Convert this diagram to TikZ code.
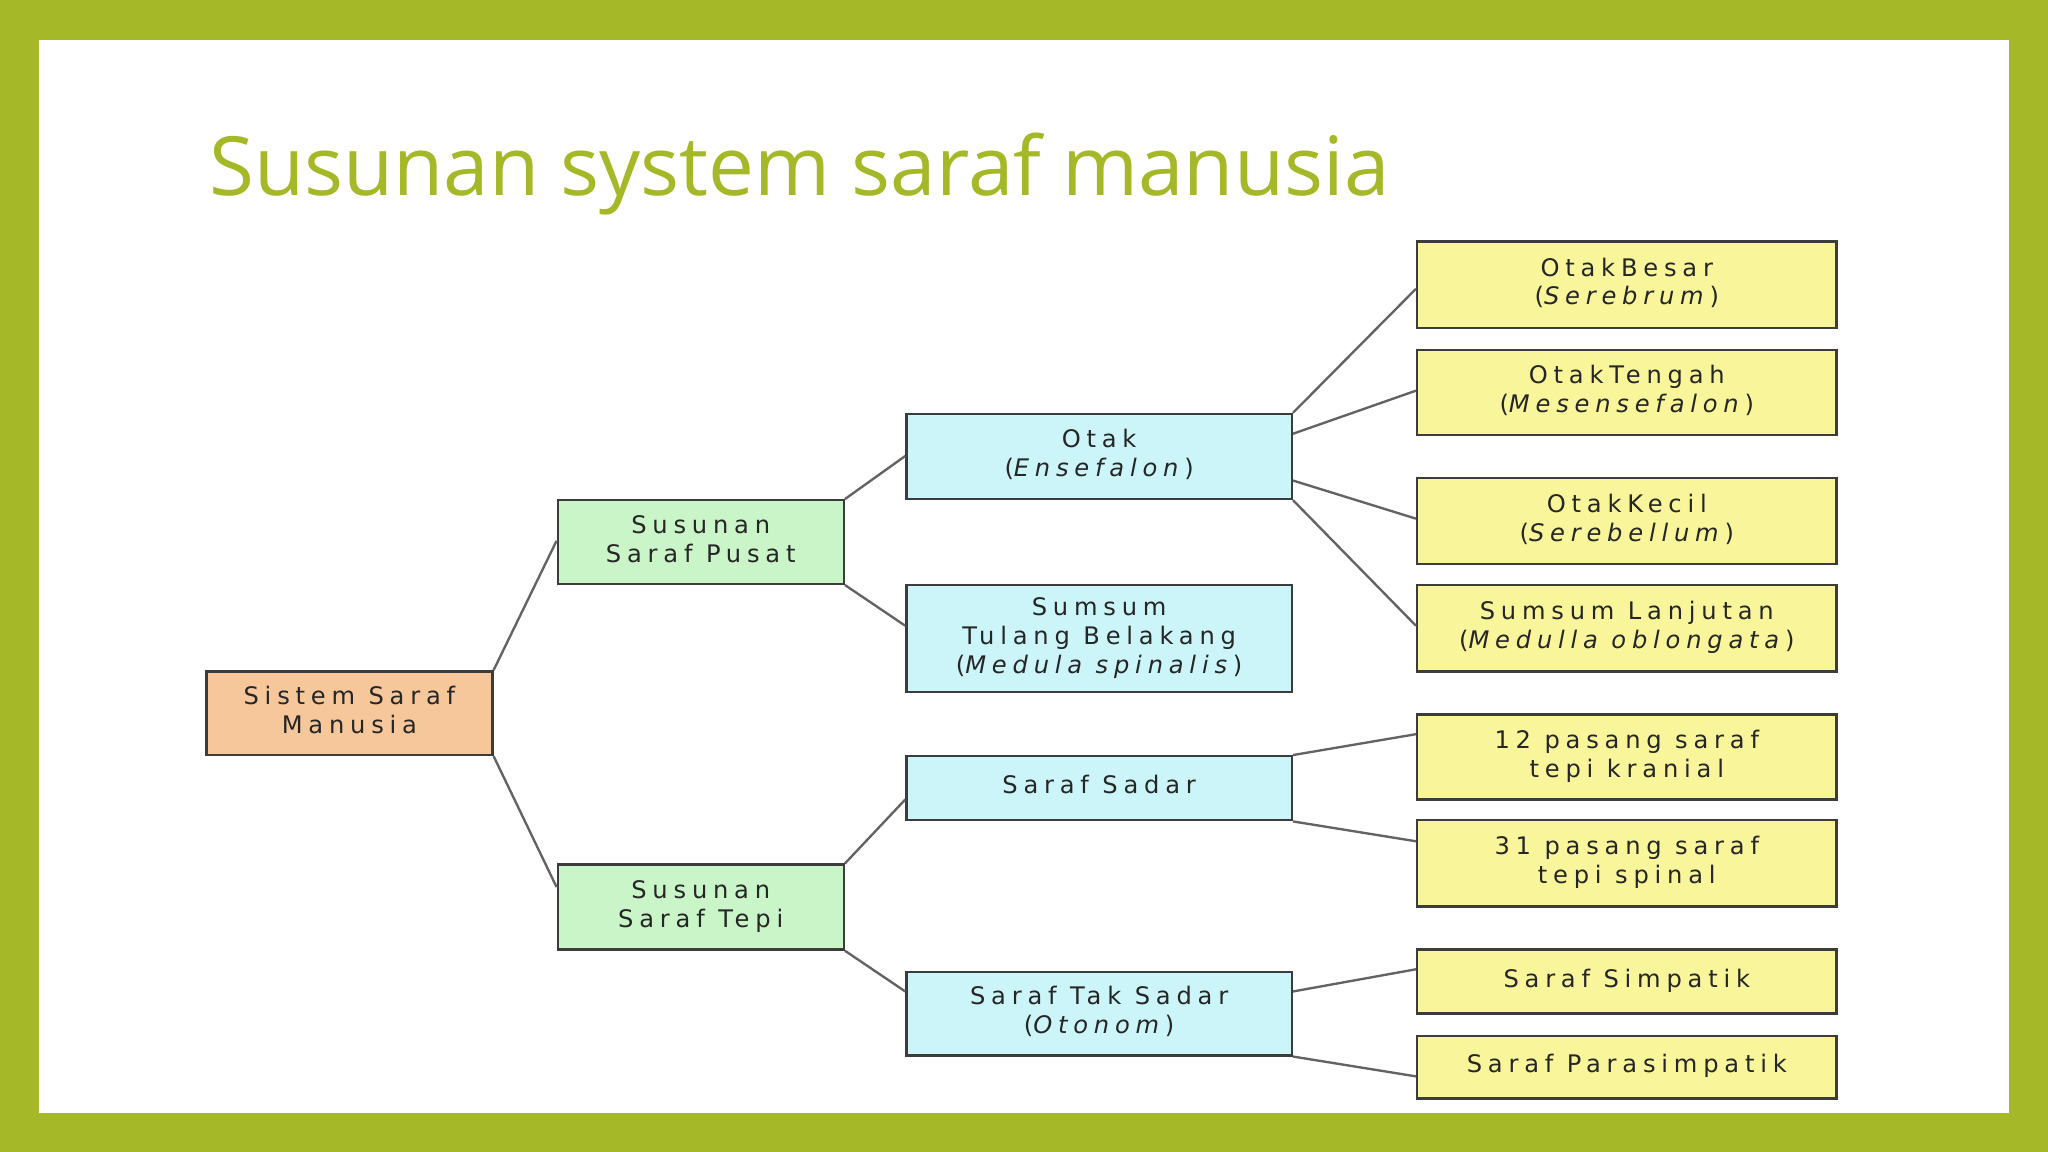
\documentclass[tikz,border=0pt]{standalone}
\usepackage{fontspec}
\newfontfamily\titlefont{Open Sans}
\newfontfamily\boxfont{DejaVu Sans}[LetterSpace=24]
\definecolor{frame}{HTML}{A5B827}
\definecolor{peach}{HTML}{F5C79A}
\definecolor{mint}{HTML}{C9F5C9}
\definecolor{aqua}{HTML}{CBF5F8}
\definecolor{lemon}{HTML}{F8F59A}
\definecolor{edge}{HTML}{3C3C3C}
\begin{document}
\begin{tikzpicture}[x=1pt,y=1pt,
  box/.style={draw=edge,line width=1.8pt,rectangle,inner sep=0pt,align=center,font=\boxfont\fontsize{18.5}{22}\selectfont,text=black!85},
  link/.style={draw=edge!80,line width=1.8pt}]
\useasboundingbox (0,0) rectangle (1568,-882);
\fill[frame] (0,0) rectangle (1568,-882);
\fill[white] (30,-31) rectangle (1538,-852);
\node[anchor=base west,text=frame,font=\titlefont\fontsize{62.6}{72}\selectfont,inner sep=0pt] (title) at (160,-150) {Susunan system saraf manusia};
\newcommand\bx[7]{\node[box,fill=#6,minimum width={(#4-#2)*1pt},minimum height={(#5-#3)*1pt}] (#1) at ({(#2+#4)/2},{-(#3+#5)/2}) {\raisebox{5pt}{\begin{tabular}{@{}c@{}}#7\end{tabular}}};}
\bx{sistem}{158}{514}{377}{578}{peach}{Sistem Saraf\\Manusia}
\bx{pusat}{427}{383}{646}{447}{mint}{Susunan\\Saraf Pusat}
\bx{tepi}{427}{662}{646}{727}{mint}{Susunan\\Saraf Tepi}
\bx{otak}{694}{317}{989}{382}{aqua}{Otak\\(\textit{Ensefalon})}
\bx{sumsum}{694}{448}{989}{530}{aqua}{Sumsum\\Tulang Belakang\\(\textit{Medula spinalis})}
\bx{sadar}{694}{579}{989}{628}{aqua}{Saraf Sadar}
\bx{taksadar}{694}{744}{989}{808}{aqua}{Saraf Tak Sadar\\(\textit{Otonom})}
\bx{besar}{1085}{185}{1406}{251}{lemon}{OtakBesar\\(\textit{Serebrum})}
\bx{tengah}{1085}{268}{1406}{333}{lemon}{OtakTengah\\(\textit{Mesensefalon})}
\bx{kecil}{1085}{366}{1406}{432}{lemon}{OtakKecil\\(\textit{Serebellum})}
\bx{lanjutan}{1085}{448}{1406}{514}{lemon}{Sumsum Lanjutan\\(\textit{Medulla oblongata})}
\bx{kranial}{1085}{547}{1406}{612}{lemon}{12 pasang saraf\\tepi kranial}
\bx{spinal}{1085}{628}{1406}{694}{lemon}{31 pasang saraf\\tepi spinal}
\bx{simpatik}{1085}{727}{1406}{776}{lemon}{Saraf Simpatik}
\bx{para}{1085}{793}{1406}{841}{lemon}{Saraf Parasimpatik}
\draw[link] (sistem.north east) -- ([yshift=-32]pusat.north west);
\draw[link] (sistem.south east) -- ([yshift=-18]tepi.north west);
\draw[link] (pusat.north east) -- ([yshift=-33]otak.north west);
\draw[link] (pusat.south east) -- ([yshift=-32]sumsum.north west);
\draw[link] (otak.north east) -- ([yshift=-37]besar.north west);
\draw[link] ([yshift=-16]otak.north east) -- ([yshift=-32]tengah.north west);
\draw[link] ([yshift=15]otak.south east) -- ([yshift=-32]kecil.north west);
\draw[link] (otak.south east) -- ([yshift=-32]lanjutan.north west);
\draw[link] (sadar.north east) -- ([yshift=-16]kranial.north west);
\draw[link] (sadar.south east) -- ([yshift=-17]spinal.north west);
\draw[link] (tepi.north east) -- ([yshift=-34]sadar.north west);
\draw[link] (tepi.south east) -- ([yshift=-16]taksadar.north west);
\draw[link] ([yshift=-16]taksadar.north east) -- ([yshift=-16]simpatik.north west);
\draw[link] (taksadar.south east) -- ([yshift=-32]para.north west);
\end{tikzpicture}
\end{document}
